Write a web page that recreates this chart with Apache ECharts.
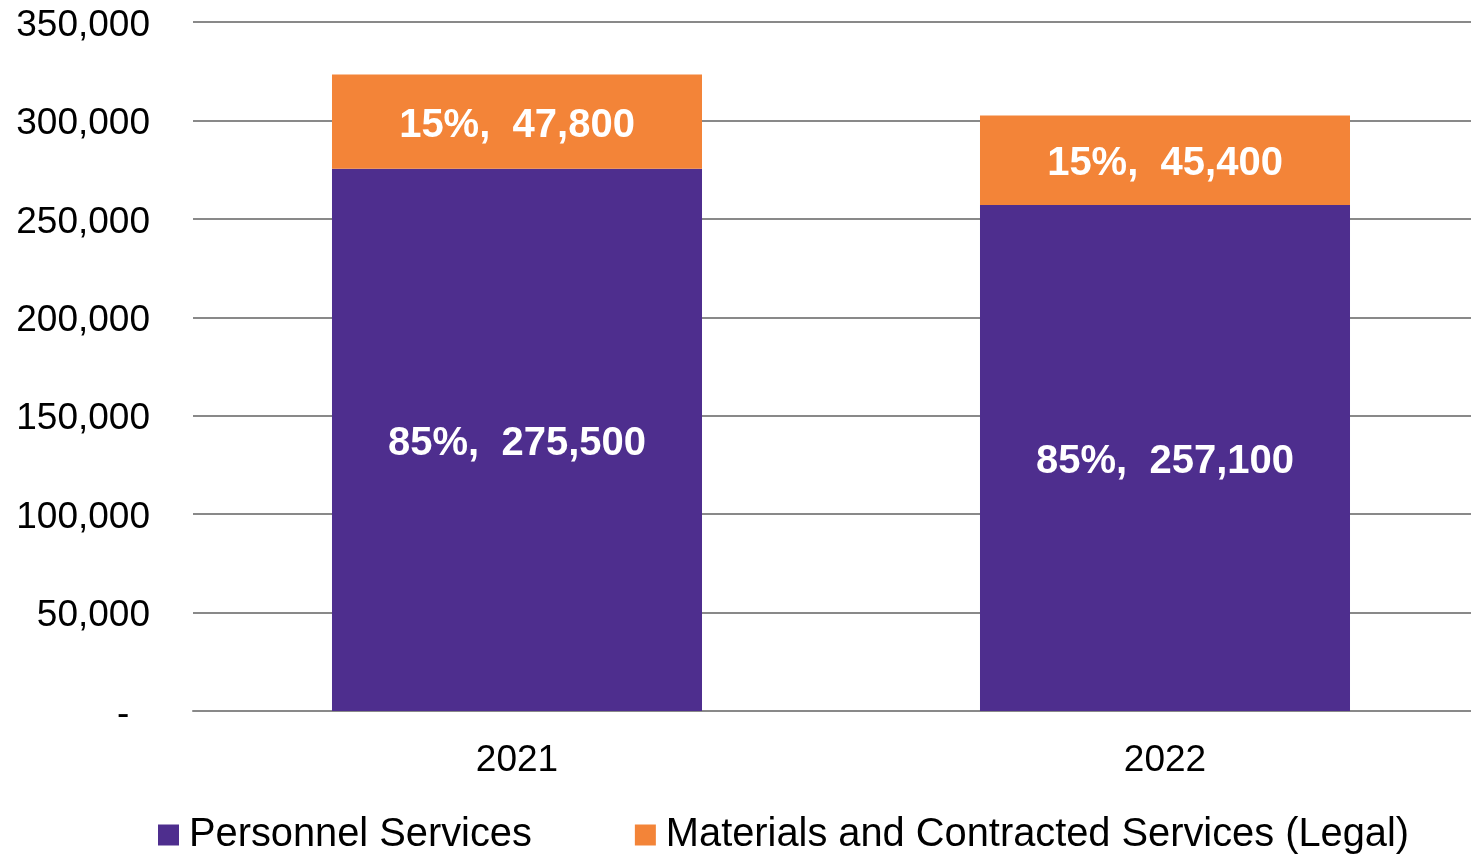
<!DOCTYPE html>
<html>
<head>
<meta charset="utf-8">
<title>Expenditure by category</title>
<script src="https://cdn.jsdelivr.net/npm/echarts@6/dist/echarts.min.js"></script>
<style>
  html, body { margin: 0; padding: 0; background: #ffffff; overflow: hidden; }
  #chart { width: 1489px; height: 854px; }
</style>
</head>
<body>
<div id="chart"></div>
<script>
// Fiscal years on the category axis
const years = ['2021', '2022'];

// Spending per category (dollars)
const personnelServices = [275500, 257100];
const materialsContracted = [47800, 45400];

// Series names shown in the legend
const seriesNames = ['Personnel Services', 'Materials and Contracted Services (Legal)'];

// Value-axis range and step
const axisMax = 350000;
const axisStep = 50000;

const FONT = '"Liberation Sans", Arial, Helvetica, sans-serif';
const PURPLE = '#4E2E8E';
const ORANGE = '#F38438';
const GRID_GRAY = '#898989';

const totals = years.map((_, i) => personnelServices[i] + materialsContracted[i]);

function fmtNumber(v) {
  return v.toLocaleString('en-US');
}

function shareLabel(values) {
  return function (p) {
    const v = values[p.dataIndex];
    const pct = Math.round(v / totals[p.dataIndex] * 100);
    return pct + '%,  ' + fmtNumber(v);
  };
}

const barLabel = {
  show: true,
  position: 'inside',
  offset: [0, 4],
  color: '#ffffff',
  fontFamily: FONT,
  fontWeight: 'bold',
  fontSize: 40
};

const chart = echarts.init(document.getElementById('chart'), null, { renderer: 'canvas' });

chart.setOption({
  animation: false,
  backgroundColor: '#ffffff',
  // the plot runs slightly past the right edge of the visible page
  grid: { left: 193, right: 0, top: 22, bottom: 143, containLabel: false },
  legend: {
    left: 158,
    top: 815,
    padding: 0,
    itemWidth: 21,
    itemHeight: 21,
    itemGap: 103,
    icon: 'rect',
    textStyle: { fontFamily: FONT, fontSize: 39.8, color: '#000000', padding: [0, 0, 0, 5] },
    data: seriesNames
  },
  xAxis: {
    type: 'category',
    data: years,
    axisLine: { show: true, lineStyle: { color: GRID_GRAY, width: 2 } },
    axisTick: { show: false },
    axisLabel: { fontFamily: FONT, fontSize: 37, color: '#000000', margin: 31 }
  },
  yAxis: {
    type: 'value',
    min: 0,
    max: axisMax,
    interval: axisStep,
    axisLine: { show: false },
    axisTick: { show: false },
    splitLine: { show: true, lineStyle: { color: GRID_GRAY, width: 2 } },
    axisLabel: {
      fontFamily: FONT,
      fontSize: 37,
      color: '#000000',
      margin: 43,
      verticalAlign: 'top',
      padding: [-15, 0, 0, 0],
      formatter: v => (v === 0 ? '-  ' : fmtNumber(v))
    }
  },
  series: [
    {
      name: seriesNames[0],
      type: 'bar',
      stack: 'total',
      barWidth: '57.1%',
      itemStyle: { color: PURPLE },
      label: Object.assign({ formatter: shareLabel(personnelServices) }, barLabel),
      data: personnelServices
    },
    {
      name: seriesNames[1],
      type: 'bar',
      stack: 'total',
      barWidth: '57.1%',
      itemStyle: { color: ORANGE },
      label: Object.assign({ formatter: shareLabel(materialsContracted) }, barLabel),
      data: materialsContracted
    }
  ]
});
</script>
</body>
</html>
